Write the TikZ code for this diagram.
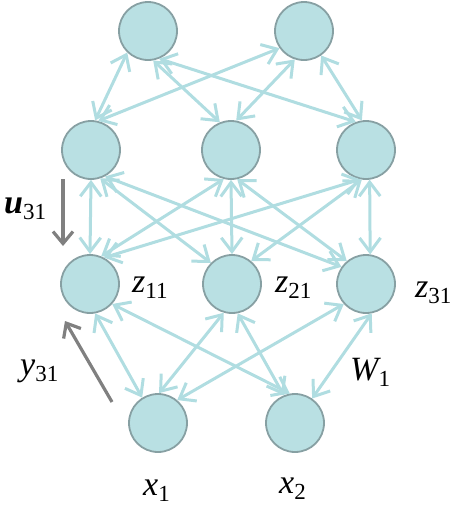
\documentclass[tikz,border=0pt]{standalone}
\usepackage{fontspec}
\setmainfont{Liberation Serif}
\usetikzlibrary{arrows.meta}
\definecolor{nfill}{RGB}{185,224,227}
\definecolor{nborder}{RGB}{135,160,163}
\definecolor{edgec}{RGB}{176,221,225}
\definecolor{garrow}{RGB}{128,128,128}
\newcommand{\vlab}[2]{\fontsize{34}{34}\selectfont\itshape #1\raisebox{-6pt}{\upshape\fontsize{23}{23}\selectfont #2}}
\newcommand{\vlabb}[2]{\fontsize{34}{34}\selectfont\bfseries\itshape #1\raisebox{-6pt}{\upshape\mdseries\fontsize{23}{23}\selectfont #2}}
\begin{document}
\begin{tikzpicture}[x=1pt,y=-1pt,
 neuron/.style={circle,fill=nfill,draw=nborder,line width=1.8pt,minimum size=58pt,inner sep=0pt},
 link/.style={draw=edgec,line width=3pt,{Straight Barb[length=14pt,width=21pt]}-{Straight Barb[length=14pt,width=21pt]}},
 grayarrow/.style={draw=garrow,line width=3.2pt,-{Straight Barb[length=12pt,width=20pt]}},
 lbl/.style={anchor=base west,inner sep=0pt}]
\useasboundingbox (0,0) rectangle (456,509);
% nodes
\node[neuron] (t1) at (148,31) {};
\node[neuron] (t2) at (304,31) {};
\node[neuron] (h1) at (91,150) {};
\node[neuron] (h2) at (231,150) {};
\node[neuron] (h3) at (366,150) {};
\node[neuron] (z1) at (90,284) {};
\node[neuron] (z2) at (232,284) {};
\node[neuron] (z3) at (366,284) {};
\node[neuron] (x1) at (158,423) {};
\node[neuron] (x2) at (295,423) {};
% links, top layer
\draw[link] (t1.226) -- (h1.82);
\draw[link] (t1.280) -- (h2.112);
\draw[link] (t1.292) -- (h3.110);
\draw[link] (t2.215) -- (h1.76);
\draw[link] (t2.252) -- (h2.80);
\draw[link] (t2.305) -- (h3.98);
% links, middle layer
\draw[link] (h1.270) -- (z1.90);
\draw[link] (h1.288) -- (z2.135);
\draw[link] (h1.298) -- (z3.145);
\draw[link] (h2.256) -- (z1.68);
\draw[link] (h2.270) -- (z2.90);
\draw[link] (h2.282) -- (z3.130);
\draw[link] (h3.259) -- (z1.62);
\draw[link] (h3.262) -- (z2.50);
\draw[link] (h3.277) -- (z3.82);
% links, bottom layer
\draw[link] (z1.280) -- (x1.122);
\draw[link] (z1.318) -- (x2.100);
\draw[link] (z2.254) -- (x1.88);
\draw[link] (z2.281) -- (x2.112);
\draw[link] (z3.222) -- (x1.50);
\draw[link] (z3.281) -- (x2.55);
% gray arrows
\coordinate (u0) at (63,179);
\coordinate (u1) at (63,246);
\draw[grayarrow] (u0) -- (u1);
\coordinate (y0) at (112,402);
\coordinate (y1) at (65,321);
\draw[grayarrow] (y0) -- (y1);
% labels
\node[lbl] (lu) at (4,213) {\vlabb{u}{31}};
\node[lbl] (ly) at (20,375) {\vlab{y}{31}};
\node[lbl] (lz1) at (132,292) {\vlab{z}{11}};
\node[lbl] (lz2) at (275,292) {\vlab{z}{21}};
\node[lbl] (lz3) at (415,297) {\vlab{z}{31}};
\node[lbl] (lw) at (350,380) {\vlab{W}{1}};
\node[lbl] (lx1) at (143,495) {\vlab{x}{1}};
\node[lbl] (lx2) at (279,493) {\vlab{x}{2}};
\end{tikzpicture}
\end{document}
